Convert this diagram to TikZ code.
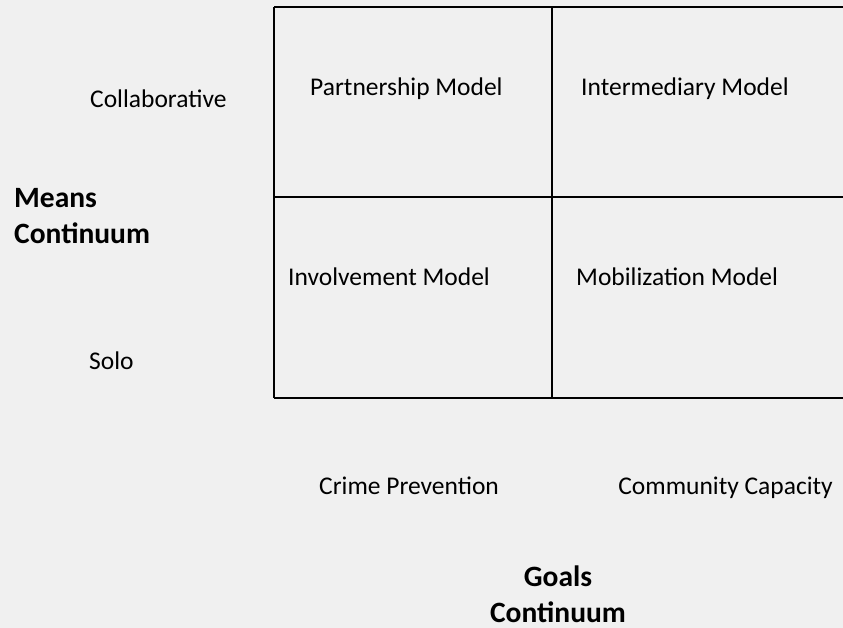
\documentclass[tikz,border=0pt]{standalone}
\usepackage{fontspec}
\setmainfont{Carlito}
\usetikzlibrary{positioning}
\tikzstyle{lbl} = [inner sep=0pt,anchor=base west,font=\fontsize{25.5}{31}\selectfont]
\tikzstyle{axis} = [inner sep=0pt,font=\bfseries\fontsize{29.5}{36}\selectfont]
\tikzstyle{grid} = [line width=1.6pt]

\begin{document}
\begin{tikzpicture}[x=1pt,y=-1pt]
        \useasboundingbox[fill=black!6] (0,0) rectangle (843,628);
        \draw[grid] (274,7) to (843,7) (274,197) to (843,197) (274,398) to (843,398);
        \draw[grid] (274,7) to (274,398) (552,7) to (552,398);

        \node[lbl] (collab) at (90,108) {Collaborative};
        \node[lbl] (solo) at (89,369) {Solo};
        \node[axis,anchor=west,align=left] (means) at (14,216) {Means\\Continuum};

        \node[lbl] (partner) at (310,96) {Partnership Model};
        \node[lbl] (inter) at (581,96) {Intermediary Model};
        \node[lbl] (involve) at (288,286) {Involvement Model};
        \node[lbl] (mobil) at (576,286) {Mobilization Model};

        \node[lbl] (crime) at (319,494) {Crime Prevention};
        \node[lbl,anchor=base east] (capacity) at (833,494) {Community Capacity};
        \node[axis,align=center] (goals) at (558,594) {Goals\\Continuum};
    \end{tikzpicture}
\end{document}
